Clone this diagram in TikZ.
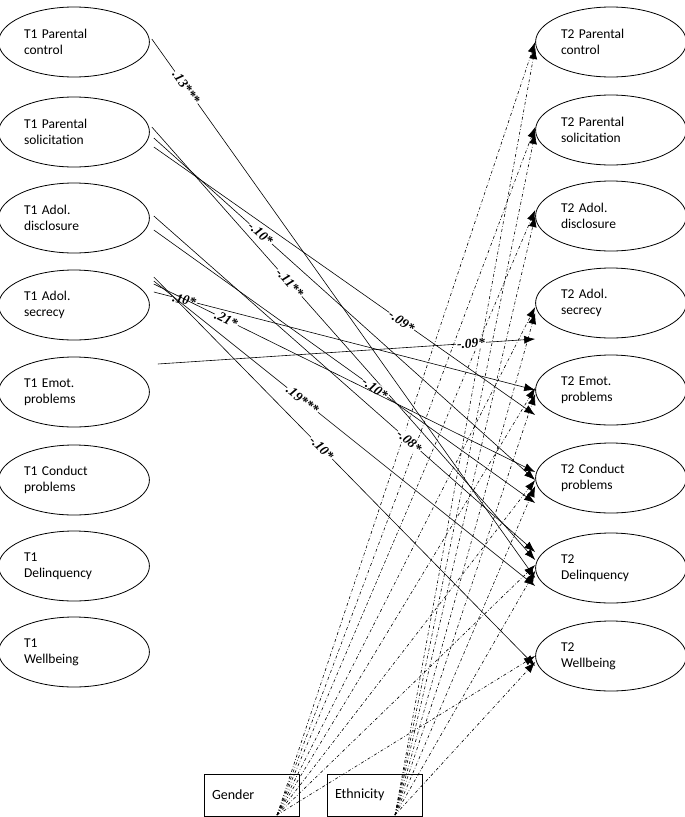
\documentclass[tikz,border=0pt]{standalone}
\usepackage{fontspec}
\setmainfont{Carlito}
\newfontfamily\lblfont{Liberation Serif}
\usetikzlibrary{arrows.meta,shapes.geometric}
\begin{document}
\begin{tikzpicture}[x=1pt,y=-1pt,
  ov/.style={draw,thick,ellipse,minimum width=150,minimum height=70,align=left,font=\fontsize{13.5}{16}\selectfont,text width=100},
  bx/.style={draw,thick,minimum width=95,minimum height=42,font=\fontsize{14}{16}\selectfont,text width=80,align=left},
  pa/.style={semithick,-{Latex[length=11,width=8]}},
  ca/.style={semithick,dash dot,-{Latex[length=11,width=8]}},
  lb/.style={fill=white,inner sep=1pt,font=\lblfont\bfseries\itshape\fontsize{13.5}{15}\selectfont,sloped}]
\useasboundingbox (0,0) rectangle (685,817);
\foreach \n/\y/\t in {1/42/{T1 Parental\\control},2/132/{T1 Parental\\solicitation},3/218/{T1 Adol.\\disclosure},4/305/{T1 Adol.\\secrecy},5/392/{T1 Emot.\\problems},6/480/{T1 Conduct\\problems},7/566/{T1\\Delinquency},8/652/{T1\\Wellbeing}}
  \node[ov] (l\n) at (74,\y) {\t};
\foreach \n/\y/\t in {1/42/{T2 Parental\\control},2/130/{T2 Parental\\solicitation},3/216/{T2 Adol.\\disclosure},4/303/{T2 Adol.\\secrecy},5/390/{T2 Emot.\\problems},6/478/{T2 Conduct\\problems},7/568/{T2\\Delinquency},8/656/{T2\\Wellbeing}}
  \node[ov] (r\n) at (611,\y) {\t};
\node[bx] (g) at (252,795) {Gender};
\node[bx] (e) at (375,795) {Ethnicity};
% covariate paths
\foreach \i/\d in {1/0,2/3,3/6,4/-4,5/2,6/-2,7/3,8/0}{
  \draw[ca] ([xshift=25,yshift=-20]g.center) -- ([yshift=\d]r\i.west);
  \draw[ca] ([xshift=20,yshift=-20]e.center) -- ([yshift=\d-6]r\i.west);
}
% structural paths
\coordinate (a1) at ([xshift=2,yshift=3]l1.east);
\draw[pa] (a1) -- node[lb,pos=0.09]{.13***} ([yshift=-10]r7.west);
\draw[pa] ([xshift=4,yshift=-15]l2.east) -- node[lb,pos=0.65]{-.09*} ([yshift=-25]r5.west);
\draw[pa] ([xshift=4,yshift=-6]l2.east) -- node[lb,pos=0.28]{-.10*} ([yshift=-2]r6.west);
\draw[pa] ([xshift=2,yshift=5]l2.east) -- node[lb,pos=0.36]{-.11**} ([yshift=8]r7.west);
\draw[pa] ([xshift=4,yshift=-12]l3.east) -- node[lb,pos=0.58]{-.10*} ([yshift=-25]r6.west);
\draw[pa] ([xshift=4,yshift=2]l3.east) -- node[lb,pos=0.67]{-.08*} ([yshift=16]r7.west);
\draw[pa] ([xshift=8,yshift=28]l5.east) -- node[lb,pos=0.83]{-.09*} ([yshift=-36]r4.west);
\draw[pa] ([xshift=4,yshift=13]l4.east) -- node[lb,pos=0.08]{.10*} ([yshift=0]r5.west);
\draw[pa] ([xshift=4,yshift=21]l4.east) -- node[lb,pos=0.19]{.21*} ([yshift=6]r6.west);
\draw[pa] ([xshift=4,yshift=24]l4.east) -- node[lb,pos=0.39]{.19***} ([yshift=-18]r7.west);
\draw[pa] ([xshift=4,yshift=28]l4.east) -- node[lb,pos=0.44]{-.10*} ([yshift=-10]r8.west);
\end{tikzpicture}
\end{document}
